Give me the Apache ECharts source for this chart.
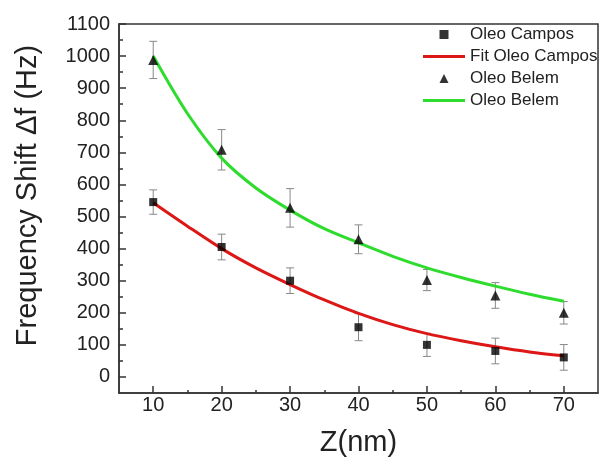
<!DOCTYPE html>
<html>
<head>
<meta charset="utf-8">
<script src="https://cdn.jsdelivr.net/npm/echarts@6/dist/echarts.min.js"></script>
<style>
  html, body { margin: 0; padding: 0; background: #fff; }
  #chart { width: 600px; height: 465px; }
</style>
</head>
<body>
<div id="chart"></div>
<script>
// measured points
const zValues = [10, 20, 30, 40, 50, 60, 70]
const campos = [545, 405, 300, 155, 100, 81, 61]
const camposErr = [38, 40, 40, 42, 36, 40, 40]
const belem = [988, 708, 527, 429, 302, 254, 200]
const belemErr = [58, 63, 60, 45, 33, 40, 35]

// fitted curves
const fitZ = [10, 15, 20, 25, 30, 35, 40, 45, 50, 55, 60, 65, 70]
const fitCampos = [543, 470, 400, 340, 288, 240, 198, 163, 135, 113, 94, 78, 66]
const fitBelem = [1000, 821, 682, 589, 520, 462, 418, 376, 340, 310, 283, 258, 236]

// ticks
const xMajor = [10, 20, 30, 40, 50, 60, 70]
const xMinor = [15, 25, 35, 45, 55, 65]
const yMajor = [0, 100, 200, 300, 400, 500, 600, 700, 800, 900, 1000, 1100]
const yMinor = [50, 150, 250, 350, 450, 550, 650, 750, 850, 950, 1050]

const font = '"Liberation Sans", Arial, sans-serif'
const axisColor = '#333'
const red = '#dd1616'
const green = '#2edc2e'

const squareIcon = 'path://M0,0L1,0L1,1L0,1Z'
const triangleIcon = 'path://M0.5,0L1,1L0,1Z'
const lineIcon = 'path://M0,0L42,0L42,3L0,3Z'

const chart = echarts.init(document.getElementById('chart'))

function errorBars(values, errs) {
  return zValues.map((z, i) => [z, values[i] - errs[i], values[i] + errs[i]])
}

function renderErr(params, api) {
  const x = api.value(0)
  const lo = api.coord([x, api.value(1)])
  const hi = api.coord([x, api.value(2)])
  const w = 4
  const style = { stroke: '#888', lineWidth: 1 }
  return {
    type: 'group',
    children: [
      { type: 'line', shape: { x1: lo[0], y1: lo[1], x2: hi[0], y2: hi[1] }, style },
      { type: 'line', shape: { x1: lo[0] - w, y1: lo[1], x2: lo[0] + w, y2: lo[1] }, style },
      { type: 'line', shape: { x1: hi[0] - w, y1: hi[1], x2: hi[0] + w, y2: hi[1] }, style }
    ]
  }
}

const baseX = {
  type: 'value',
  min: 5,
  max: 75,
  splitLine: { show: false }
}
const baseY = {
  type: 'value',
  min: -50,
  max: 1100,
  splitLine: { show: false }
}

chart.setOption({
  animation: false,
  backgroundColor: '#fff',
  textStyle: { fontFamily: font },
  grid: {
    left: 119, right: 2, top: 24, bottom: 72,
    show: true, borderColor: axisColor, borderWidth: 1.5
  },
  legend: {
    orient: 'vertical',
    left: 418,
    top: 21,
    itemWidth: 42,
    itemHeight: 9,
    itemGap: 5,
    symbolKeepAspect: true,
    data: [
      { name: 'Oleo Campos', icon: squareIcon },
      { name: 'Fit Oleo Campos', icon: lineIcon },
      { name: 'Oleo Belem', icon: triangleIcon },
      { name: 'Oleo Belem ', icon: lineIcon }
    ],
    textStyle: { fontSize: 17, color: '#222', fontFamily: font }
  },
  xAxis: [
    {
      ...baseX,
      name: 'Z(nm)',
      nameLocation: 'middle',
      nameGap: 35,
      nameTextStyle: { fontSize: 29, color: '#222', fontFamily: font },
      axisLine: { onZero: false, lineStyle: { color: axisColor, width: 1.5 } },
      axisTick: { inside: true, length: 7, customValues: xMajor, lineStyle: { color: axisColor, width: 1.5 } },
      axisLabel: { customValues: xMajor, fontSize: 20, color: '#222', margin: 2 }
    },
    {
      ...baseX,
      position: 'bottom',
      axisLine: { show: false, onZero: false },
      axisTick: { inside: true, length: 3, customValues: xMinor, lineStyle: { color: axisColor, width: 1.5 } },
      axisLabel: { show: false }
    }
  ],
  yAxis: [
    {
      ...baseY,
      name: 'Frequency Shift \u0394f (Hz)',
      nameLocation: 'middle',
      nameGap: 77,
      nameTextStyle: { fontSize: 29, color: '#222', fontFamily: font, padding: [0, 0, 0, 26] },
      axisLine: { show: true, onZero: false, lineStyle: { color: axisColor, width: 1.5 } },
      axisTick: { show: true, inside: true, length: 7, customValues: yMajor, lineStyle: { color: axisColor, width: 1.5 } },
      axisLabel: { customValues: yMajor, fontSize: 20, color: '#222', margin: 9, formatter: (v) => String(v) }
    },
    {
      ...baseY,
      position: 'left',
      axisLine: { show: false, onZero: false },
      axisTick: { show: true, inside: true, length: 4, customValues: yMinor, lineStyle: { color: axisColor, width: 1.5 } },
      axisLabel: { show: false }
    }
  ],
  series: [
    {
      type: 'custom',
      renderItem: renderErr,
      data: errorBars(campos, camposErr),
      z: 1,
      silent: true
    },
    {
      type: 'custom',
      renderItem: renderErr,
      data: errorBars(belem, belemErr),
      z: 1,
      silent: true
    },
    {
      name: 'Fit Oleo Campos',
      type: 'line',
      data: fitZ.map((z, i) => [z, fitCampos[i]]),
      smooth: 0.3,
      symbol: 'none',
      lineStyle: { color: red, width: 3 },
      itemStyle: { color: red },
      z: 2
    },
    {
      name: 'Oleo Belem ',
      type: 'line',
      data: fitZ.map((z, i) => [z, fitBelem[i]]),
      smooth: 0.3,
      symbol: 'none',
      lineStyle: { color: green, width: 3 },
      itemStyle: { color: green },
      z: 2
    },
    {
      name: 'Oleo Campos',
      type: 'scatter',
      data: zValues.map((z, i) => [z, campos[i]]),
      symbol: 'rect',
      symbolSize: 8,
      itemStyle: { color: '#000' },
      z: 3
    },
    {
      name: 'Oleo Belem',
      type: 'scatter',
      data: zValues.map((z, i) => [z, belem[i]]),
      symbol: 'triangle',
      symbolSize: 10,
      itemStyle: { color: '#000' },
      z: 3
    }
  ]
})
</script>
</body>
</html>
